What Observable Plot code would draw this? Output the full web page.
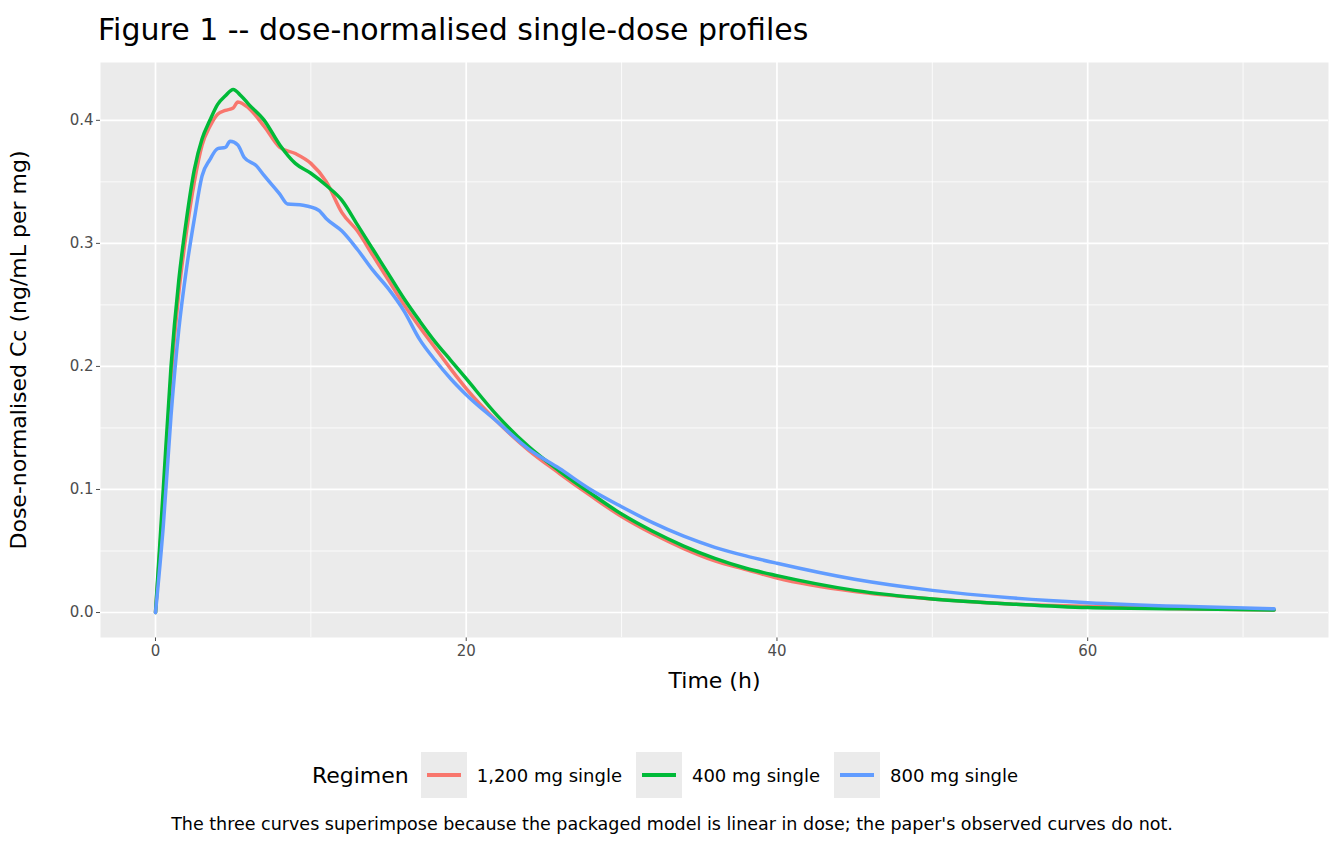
<!DOCTYPE html>
<html><head><meta charset="utf-8">
<script src="https://cdn.jsdelivr.net/npm/d3@7"></script>
<script src="https://cdn.jsdelivr.net/npm/@observablehq/plot@0.6"></script>
<style>
body{margin:0;background:#fff;font-family:"DejaVu Sans",sans-serif;width:1344px;overflow:hidden}
#title{font-size:30px;padding:10px 0 0 98px;height:40px;color:#000;line-height:40px}
#legend{display:flex;align-items:center;justify-content:center;margin-top:42px;font-size:18px;gap:0}
.key{width:46px;height:46px;background:#ebebeb;display:flex;align-items:center;justify-content:center;margin-right:10px}
.key span{display:block;width:34px;height:4px}
.lab{margin-right:14px}
#cap{text-align:center;font-size:17.5px;margin-top:16px;white-space:nowrap;margin-left:-700px;margin-right:-700px}
</style></head><body>
<div id="title">Figure 1 -- dose-normalised single-dose profiles</div>
<div id="chart"></div>
<div id="legend"></div>
<div id="cap">The three curves superimpose because the packaged model is linear in dose; the paper's observed curves do not.</div>
<script>
const regimens=["1,200 mg single","400 mg single","800 mg single"];
const colors=["#F8766D","#00BA38","#619CFF"];
const times1200=[0,0.5,1,1.5,2,2.5,3,3.5,4,4.5,5,5.3,6,7,8,9,10,11,12,13,14,15,16,17,18,19,20,22,24,26,28,30,32,34,36,38,40,45,50,55,60,66,72];
const cc1200=[0,0.09,0.19,0.26,0.31,0.35,0.38,0.395,0.405,0.408,0.41,0.415,0.41,0.395,0.378,0.373,0.365,0.35,0.325,0.31,0.29,0.27,0.25,0.232,0.215,0.198,0.182,0.155,0.132,0.113,0.095,0.078,0.064,0.052,0.042,0.035,0.028,0.017,0.011,0.007,0.005,0.003,0.002];
const times400=[0,0.5,1,1.5,2,2.5,3,3.5,4,4.5,5,5.5,6,7,8,9,10,11,12,13,14,15,16,17,18,19,20,22,24,26,28,30,32,34,36,38,40,45,50,55,60,66,72];
const cc400=[0,0.1,0.2,0.27,0.32,0.36,0.385,0.4,0.413,0.42,0.425,0.42,0.413,0.4,0.38,0.365,0.357,0.347,0.335,0.315,0.295,0.275,0.255,0.237,0.22,0.205,0.19,0.16,0.135,0.115,0.097,0.08,0.066,0.054,0.044,0.036,0.03,0.018,0.011,0.007,0.004,0.003,0.002];
const times800=[0,0.5,1,1.5,2,2.5,3,3.5,4,4.5,4.8,5.3,5.7,6.5,7,8,8.5,9.5,10.5,11,12,13,14,15,16,17,18,19,20,22,24,26,28,30,32,34,36,38,40,45,50,55,60,66,72];
const cc800=[0,0.07,0.16,0.23,0.28,0.32,0.355,0.368,0.377,0.378,0.383,0.38,0.37,0.363,0.355,0.34,0.332,0.331,0.327,0.32,0.31,0.295,0.278,0.263,0.245,0.222,0.205,0.19,0.177,0.155,0.133,0.117,0.1,0.086,0.073,0.062,0.053,0.046,0.04,0.027,0.018,0.012,0.008,0.005,0.003];
const series=[[times1200,cc1200],[times400,cc400],[times800,cc800]];
const data=series.flatMap(([t,c],i)=>t.map((x,j)=>({time:x,cc:c[j],regimen:regimens[i]})));
const xMajor=[0,20,40,60], xMinor=[10,30,50,70];
const yMajor=[0,0.1,0.2,0.3,0.4], yMinor=[0.05,0.15,0.25,0.35];
const plot=Plot.plot({
  width:1344,height:660,marginTop:12,marginBottom:73,marginLeft:100,marginRight:16,
  style:{fontFamily:"DejaVu Sans",fontSize:"15px",color:"#4d4d4d"},
  x:{domain:[-3.54,75.5],ticks:xMajor,tickSize:4,tickPadding:4,label:"Time (h)",labelAnchor:"center",labelArrow:"none",labelOffset:50},
  y:{domain:[-0.0203,0.447],ticks:yMajor,tickFormat:d3.format(".1f"),tickSize:4,tickPadding:3,label:"Dose-normalised Cc (ng/mL per mg)",labelAnchor:"center",labelArrow:"none",labelOffset:90},
  color:{domain:regimens,range:colors},
  marks:[
    Plot.frame({fill:"#ebebeb",stroke:null}),
    Plot.ruleX(xMinor,{stroke:"#fff",strokeWidth:0.8}),
    Plot.ruleY(yMinor,{stroke:"#fff",strokeWidth:0.8}),
    Plot.ruleX(xMajor,{stroke:"#fff",strokeWidth:1.7}),
    Plot.ruleY(yMajor,{stroke:"#fff",strokeWidth:1.7}),
    Plot.line(data,{x:"time",y:"cc",stroke:"regimen",strokeWidth:3.5,curve:"monotone-x"})
  ]
});
plot.querySelectorAll('g[aria-label="x-axis label"], g[aria-label="y-axis label"]').forEach(g=>{g.style.fontSize="22px";g.setAttribute("fill","#000");g.querySelectorAll("text").forEach(t=>{t.style.fontSize="22px";t.setAttribute("fill","#000");});});
document.getElementById("chart").appendChild(plot);
const lg=document.getElementById("legend");
lg.innerHTML='<span style="font-size:22px;margin-right:12px">Regimen</span>'+regimens.map((r,i)=>`<div class="key"><span style="background:${colors[i]}"></span></div><span class="lab">${r}</span>`).join("");
</script></body></html>
